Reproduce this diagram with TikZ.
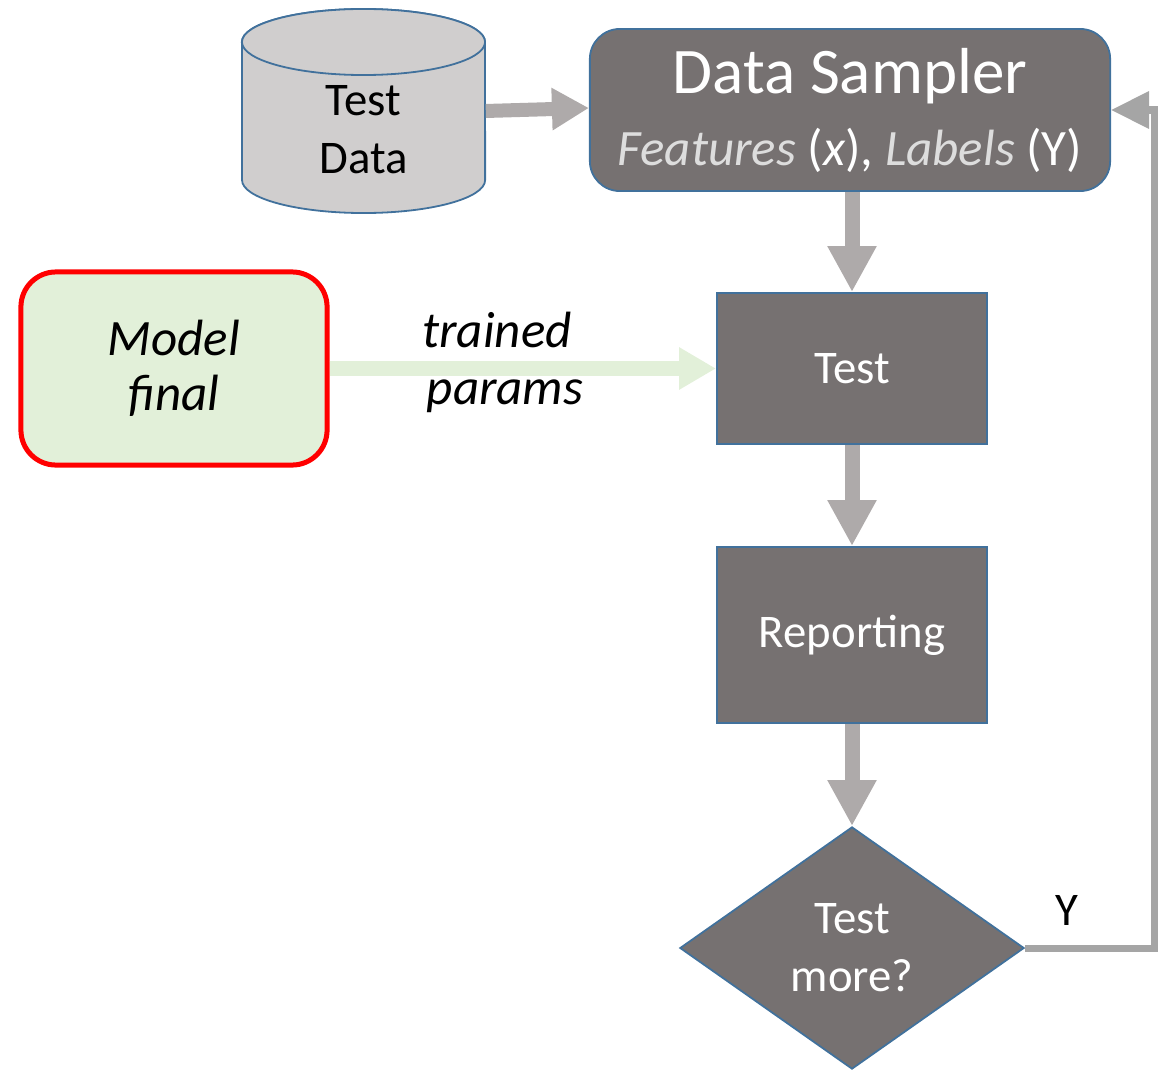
\documentclass[tikz,border=0pt]{standalone}
\usepackage{fontspec}
\setmainfont{Carlito}
\usetikzlibrary{arrows.meta,shapes.geometric}
\definecolor{boxgray}{HTML}{767171}
\definecolor{boxedge}{HTML}{41719C}
\definecolor{arrgray}{HTML}{AEAAAA}
\definecolor{loopgray}{HTML}{A5A5A5}
\definecolor{cylfill}{HTML}{D0CECE}
\definecolor{lgreen}{HTML}{E2F0D9}
\definecolor{subtxt}{HTML}{DDDDDD}
\begin{document}
\begin{tikzpicture}[x=0.01cm,y=-0.01cm,
  procbox/.style={draw=boxedge, line width=0.018cm, fill=boxgray, text=white, align=center, inner sep=0pt, font=\fontsize{13.3}{16.5}\selectfont},
  bigarrow/.style={draw=arrgray, line width=0.15cm, -{Triangle[length=0.46cm,width=0.46cm]}},
  sidearrow/.style={draw=arrgray, line width=0.14cm, -{Triangle[length=0.37cm,width=0.40cm]}},
  greenarrow/.style={draw=lgreen, line width=0.14cm, -{Triangle[length=0.37cm,width=0.40cm]}},
  loopline/.style={draw=loopgray, line width=0.07cm, -{Triangle[length=0.38cm,width=0.36cm]}},
  cyl/.style={draw=boxedge, line width=0.018cm, fill=cylfill},
  handtxt/.style={font=\fontsize{14.5}{15.6}\selectfont\itshape, align=center, inner sep=0pt}
]
\useasboundingbox (0,0) rectangle (1158,1070);

% cylinder
\draw[cyl] (242,42) -- (242,180) arc[start angle=180,end angle=360,x radius=1.215cm,y radius=0.33cm] -- (485,42) arc[start angle=0,end angle=180,x radius=1.215cm,y radius=0.33cm] -- cycle;
\draw[cyl] (363.5,42) ellipse[x radius=1.215cm, y radius=0.33cm];
\node[align=center, inner sep=0pt, minimum width=2.43cm, font=\fontsize{13.3}{16.5}\selectfont] (td) at (363.5,130) {Test\\Data};

% data sampler
\node[procbox, rounded corners=0.3cm, minimum width=5.20cm, minimum height=1.62cm] (ds) at (850,110)
  {{\fontsize{18.5}{16.8}\selectfont Data Sampler}\\[4pt]{\fontsize{14.5}{16.8}\selectfont{\color{subtxt}\itshape Features} (\textit{x}), {\color{subtxt}\itshape Labels} (Y)}};

% process boxes
\node[procbox, minimum width=2.70cm, minimum height=1.51cm] (test) at (852,368.5) {Test};
\node[procbox, minimum width=2.70cm, minimum height=1.76cm] (rep) at (852,635) {Reporting};
\node[procbox, diamond, minimum width=3.44cm, minimum height=2.42cm] (dm) at (852,948) {Test\\more?};

% model box
\node[handtxt, draw=red, line width=0.05cm, fill=lgreen, rounded corners=0.35cm, minimum width=3.06cm, minimum height=1.93cm] (mf) at (174,368.5) {Model\\final};

% connectors
\draw[sidearrow] ([yshift=0.19cm]td.east) -- ([yshift=0.02cm]ds.west);
\draw[bigarrow] (ds.south -| test.north) -- (test.north);
\draw[bigarrow] (test) -- (rep);
\draw[bigarrow] (rep) -- (dm);
\draw[greenarrow] (mf) -- (test);
\draw[loopline] (dm.east) -- ++(129,0) |- (ds.east);

% labels
\node[handtxt] (tr) at (497,330) {trained};
\node[handtxt] (pa) at (505,396) {params};
\node[font=\fontsize{13.3}{16}\selectfont, inner sep=0pt] (ylab) at (1067,910) {Y};
\end{tikzpicture}
\end{document}
